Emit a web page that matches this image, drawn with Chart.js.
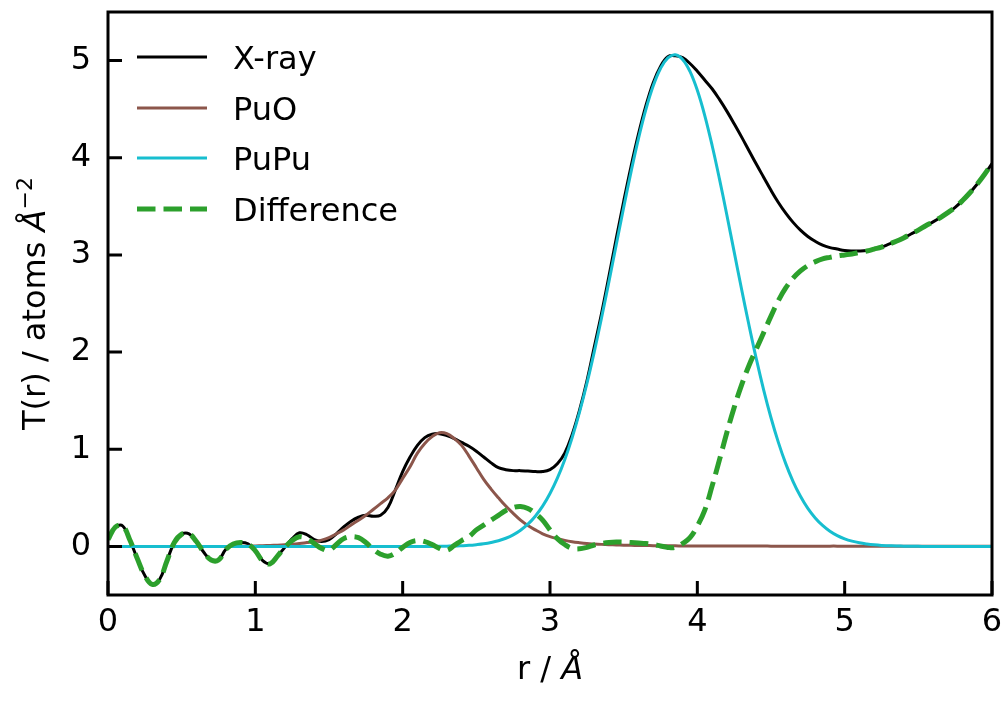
<!DOCTYPE html>
<html>
<head>
<meta charset="utf-8">
<script src="https://cdn.jsdelivr.net/npm/chart.js@4.4.0/dist/chart.umd.min.js"></script>
<style>
  html, body { margin: 0; padding: 0; background: #fff; }
  canvas { display: block; }
</style>
</head>
<body>
<canvas id="chart" width="1008" height="701"></canvas>
<script>
// r (Å), paso de 0.05
const rValues = [
    0, 0.05, 0.1, 0.15, 0.2, 0.25, 0.3, 0.35, 0.4, 0.45,
    0.5, 0.55, 0.6, 0.65, 0.7, 0.75, 0.8, 0.85, 0.9, 0.95,
    1, 1.05, 1.1, 1.15, 1.2, 1.25, 1.3, 1.35, 1.4, 1.45,
    1.5, 1.55, 1.6, 1.65, 1.7, 1.75, 1.8, 1.85, 1.9, 1.95,
    2, 2.05, 2.1, 2.15, 2.2, 2.25, 2.3, 2.35, 2.4, 2.45,
    2.5, 2.55, 2.6, 2.65, 2.7, 2.75, 2.8, 2.85, 2.9, 2.95,
    3, 3.05, 3.1, 3.15, 3.2, 3.25, 3.3, 3.35, 3.4, 3.45,
    3.5, 3.55, 3.6, 3.65, 3.7, 3.75, 3.8, 3.85, 3.9, 3.95,
    4, 4.05, 4.1, 4.15, 4.2, 4.25, 4.3, 4.35, 4.4, 4.45,
    4.5, 4.55, 4.6, 4.65, 4.7, 4.75, 4.8, 4.85, 4.9, 4.95,
    5, 5.05, 5.1, 5.15, 5.2, 5.25, 5.3, 5.35, 5.4, 5.45,
    5.5, 5.55, 5.6, 5.65, 5.7, 5.75, 5.8, 5.85, 5.9, 5.95,
    6
];

const xrayValues = [
    0.07, 0.20, 0.21, 0.06, -0.13, -0.30, -0.39, -0.34, -0.15, 0.04,
    0.125, 0.13, 0.05, -0.06, -0.14, -0.14, -0.03, 0.025, 0.04, 0.027,
    -0.04, -0.145, -0.175, -0.10, -0.01, 0.08, 0.14, 0.12, 0.07, 0.05,
    0.07, 0.13, 0.20, 0.26, 0.30, 0.32, 0.31, 0.32, 0.40, 0.58,
    0.77, 0.92, 1.04, 1.12, 1.155, 1.16, 1.14, 1.11, 1.07, 1.03,
    0.98, 0.92, 0.86, 0.81, 0.79, 0.78, 0.78, 0.775, 0.77, 0.77,
    0.79, 0.85, 0.96, 1.15, 1.40, 1.70, 2.05, 2.40, 2.78, 3.17,
    3.55, 3.91, 4.24, 4.53, 4.77, 4.94, 5.04, 5.05, 5.03, 4.97,
    4.89, 4.80, 4.71, 4.60, 4.48, 4.35, 4.215, 4.075, 3.935, 3.80,
    3.665, 3.54, 3.43, 3.335, 3.255, 3.19, 3.14, 3.10, 3.075, 3.06,
    3.045, 3.04, 3.04, 3.045, 3.06, 3.08, 3.11, 3.14, 3.175, 3.215,
    3.255, 3.30, 3.34, 3.385, 3.435, 3.49, 3.56, 3.64, 3.73, 3.83,
    3.94
];

const puoValues = [
    0, 0, 0, 0, 0, 0, 0, 0, 0, 0,
    0, 0, 0, 0, 0, 0, 0, 0, 0, 0.003,
    0.005, 0.007, 0.010, 0.013, 0.017, 0.022, 0.030, 0.040, 0.050, 0.065,
    0.090, 0.130, 0.170, 0.220, 0.270, 0.320, 0.380, 0.440, 0.500, 0.580,
    0.700, 0.820, 0.960, 1.060, 1.130, 1.170, 1.160, 1.110, 1.040, 0.930,
    0.810, 0.690, 0.590, 0.500, 0.415, 0.340, 0.270, 0.215, 0.170, 0.130,
    0.100, 0.080, 0.062, 0.048, 0.038, 0.030, 0.025, 0.021, 0.018, 0.015,
    0.013, 0.011, 0.010, 0.009, 0.008, 0.007, 0.006, 0.006, 0.005, 0.005,
    0.005, 0.004, 0.004, 0.004, 0.004, 0.004, 0.004, 0.004, 0.004, 0.004,
    0.003, 0.003, 0.003, 0.003, 0.003, 0.003, 0.003, 0.003, 0.003, 0.003,
    0.002, 0.002, 0.002, 0.002, 0.002, 0.002, 0.002, 0.002, 0.002, 0.002,
    0.001, 0.001, 0.001, 0.001, 0.001, 0.001, 0.001, 0.001, 0.001, 0.001,
    0.001
];

const pupuValues = [
    0, 0, 0, 0, 0, 0, 0, 0, 0, 0,
    0, 0, 0, 0, 0, 0, 0, 0, 0, 0,
    0, 0, 0, 0, 0, 0, 0, 0, 0, 0,
    0, 0, 0, 0, 0, 0, 0, 0, 0, 0,
    0, 0, 0, 0, 0, 0.002, 0.003, 0.004, 0.007, 0.011,
    0.018, 0.027, 0.040, 0.058, 0.084, 0.119, 0.167, 0.229, 0.311, 0.414,
    0.544, 0.702, 0.893, 1.119, 1.379, 1.674, 2.000, 2.353, 2.725, 3.107,
    3.488, 3.855, 4.195, 4.493, 4.738, 4.919, 5.028, 5.060, 5.012, 4.889,
    4.694, 4.437, 4.129, 3.783, 3.413, 3.031, 2.649, 2.281, 1.932, 1.612,
    1.324, 1.071, 0.852, 0.668, 0.516, 0.391, 0.293, 0.216, 0.156, 0.111,
    0.078, 0.054, 0.037, 0.025, 0.016, 0.010, 0.007, 0.004, 0.003, 0.002,
    0.001, 0, 0, 0, 0, 0, 0, 0, 0, 0,
    0
];

const differenceValues = [
    0.07, 0.20, 0.21, 0.06, -0.13, -0.30, -0.39, -0.34, -0.15, 0.04,
    0.125, 0.13, 0.05, -0.06, -0.14, -0.14, -0.03, 0.025, 0.04, 0.024,
    -0.045, -0.15, -0.18, -0.10, -0.01, 0.06, 0.10, 0.08, 0.03, -0.02,
    -0.04, 0.02, 0.08, 0.10, 0.09, 0.04, -0.03, -0.08, -0.10, -0.07,
    -0.01, 0.04, 0.06, 0.05, 0.02, -0.02, -0.04, 0.01, 0.06, 0.10,
    0.17, 0.22, 0.27, 0.32, 0.37, 0.40, 0.41, 0.39, 0.34, 0.27,
    0.17, 0.08, 0.02, -0.02, -0.025, -0.01, 0.015, 0.03, 0.04, 0.045,
    0.045, 0.04, 0.035, 0.03, 0.02, 0.005, -0.01, -0.01, 0.03, 0.09,
    0.21, 0.37, 0.62, 0.89, 1.17, 1.43, 1.66, 1.86, 2.03, 2.20,
    2.37, 2.53, 2.66, 2.76, 2.835, 2.89, 2.93, 2.96, 2.975, 2.99,
    3.00, 3.01, 3.025, 3.04, 3.06, 3.08, 3.11, 3.14, 3.175, 3.215,
    3.255, 3.30, 3.34, 3.385, 3.435, 3.49, 3.56, 3.64, 3.73, 3.83,
    3.94
];

const xTicks = [0, 1, 2, 3, 4, 5, 6];
const yTicks = [0, 1, 2, 3, 4, 5];

const FONT = '"DejaVu Sans", "Liberation Sans", sans-serif';

function toPoints(values) {
    return rValues.map((r, i) => ({ x: r, y: values[i] }));
}

// marco y marcas hacia dentro (estilo matplotlib)
const framePlugin = {
    id: 'frame',
    afterDatasetsDraw(chart) {
        const { ctx, chartArea: a, scales } = chart;
        ctx.save();
        ctx.strokeStyle = '#000';
        ctx.lineWidth = 3;
        ctx.strokeRect(a.left, a.top, a.right - a.left, a.bottom - a.top);
        ctx.beginPath();
        scales.x.ticks.forEach((t) => {
            const px = scales.x.getPixelForValue(t.value);
            ctx.moveTo(px, a.bottom);
            ctx.lineTo(px, a.bottom - 14);
        });
        scales.y.ticks.forEach((t) => {
            const py = scales.y.getPixelForValue(t.value);
            ctx.moveTo(a.left, py);
            ctx.lineTo(a.left + 14, py);
        });
        ctx.stroke();
        ctx.restore();
    },
};

// títulos de ejes con Å en cursiva y superíndice
function drawParts(ctx, parts, x, y) {
    let total = 0;
    parts.forEach((p) => {
        ctx.font = p.font;
        total += ctx.measureText(p.text).width;
    });
    let cx = x - total / 2;
    parts.forEach((p) => {
        ctx.font = p.font;
        ctx.fillText(p.text, cx, y - (p.rise || 0));
        cx += ctx.measureText(p.text).width;
    });
}

const titlesPlugin = {
    id: 'titles',
    afterDraw(chart) {
        const { ctx, chartArea: a } = chart;
        ctx.save();
        ctx.fillStyle = '#000';
        ctx.textBaseline = 'alphabetic';
        ctx.textAlign = 'left';
        drawParts(ctx, [
            { text: 'r / ', font: '32px ' + FONT },
            { text: 'Å', font: 'italic 32px ' + FONT },
        ], (a.left + a.right) / 2, 679);

        ctx.translate(45, (a.top + a.bottom) / 2);
        ctx.rotate(-Math.PI / 2);
        drawParts(ctx, [
            { text: 'T(r) / atoms ', font: '32px ' + FONT },
            { text: 'Å', font: 'italic 32px ' + FONT },
            { text: '\u22122', font: '22px ' + FONT, rise: 13 },
        ], 0, 0);
        ctx.restore();
    },
};

// leyenda dentro del área, arriba a la izquierda
const legendPlugin = {
    id: 'innerLegend',
    afterDraw(chart) {
        const { ctx } = chart;
        const rows = [57, 108, 158, 209];
        ctx.save();
        chart.data.datasets.forEach((ds, i) => {
            const y = rows[i];
            ctx.strokeStyle = ds.borderColor;
            ctx.lineWidth = ds.borderWidth;
            ctx.setLineDash(ds.borderDash || []);
            ctx.beginPath();
            ctx.moveTo(137, y);
            ctx.lineTo(207, y);
            ctx.stroke();
            ctx.setLineDash([]);
            ctx.fillStyle = '#000';
            ctx.font = '32px ' + FONT;
            ctx.textBaseline = 'alphabetic';
            ctx.fillText(ds.label, 233, y + 11.7);
        });
        ctx.restore();
    },
};

function createPdfChart() {
    const ctx = document.getElementById('chart').getContext('2d');
    const chartData = {
        datasets: [
            {
                label: 'X-ray',
                data: toPoints(xrayValues),
                borderColor: '#000000',
                borderWidth: 3,
                order: 4,
            },
            {
                label: 'PuO',
                data: toPoints(puoValues),
                borderColor: '#8c564b',
                borderWidth: 3,
                order: 3,
            },
            {
                label: 'PuPu',
                data: toPoints(pupuValues),
                borderColor: '#17becf',
                borderWidth: 3,
                order: 2,
            },
            {
                label: 'Difference',
                data: toPoints(differenceValues),
                borderColor: '#2ca02c',
                borderWidth: 5,
                borderDash: [18.5, 8],
                order: 1,
            },
        ],
    };
    const chartOptions = {
        responsive: false,
        devicePixelRatio: 1,
        animation: false,
        layout: { padding: { top: 12, right: 16, left: 0, bottom: 0 } },
        elements: {
            point: { radius: 0 },
            line: { tension: 0.4, fill: false, borderCapStyle: 'butt' },
        },
        plugins: {
            legend: { display: false },
            tooltip: { enabled: false },
        },
        scales: {
            x: {
                type: 'linear',
                min: 0,
                max: 6,
                grid: { display: false, drawTicks: false },
                border: { display: false },
                ticks: { color: '#000', font: { size: 32, family: FONT }, padding: 8 },
                afterBuildTicks: (scale) => { scale.ticks = xTicks.map((v) => ({ value: v })); },
                afterFit: (scale) => {
                    scale.height = 106;
                    scale.paddingLeft = 0;
                    scale.paddingRight = 0;
                },
            },
            y: {
                type: 'linear',
                min: -0.5,
                max: 5.5,
                grid: { display: false, drawTicks: false },
                border: { display: false },
                ticks: { color: '#000', font: { size: 32, family: FONT }, padding: 17 },
                afterBuildTicks: (scale) => { scale.ticks = yTicks.map((v) => ({ value: v })); },
                afterFit: (scale) => {
                    scale.width = 108;
                    scale.paddingTop = 0;
                    scale.paddingBottom = 0;
                },
            },
        },
    };

    new Chart(ctx, {
        type: 'line',
        data: chartData,
        options: chartOptions,
        plugins: [framePlugin, titlesPlugin, legendPlugin],
    });
}

createPdfChart();
</script>
</body>
</html>
